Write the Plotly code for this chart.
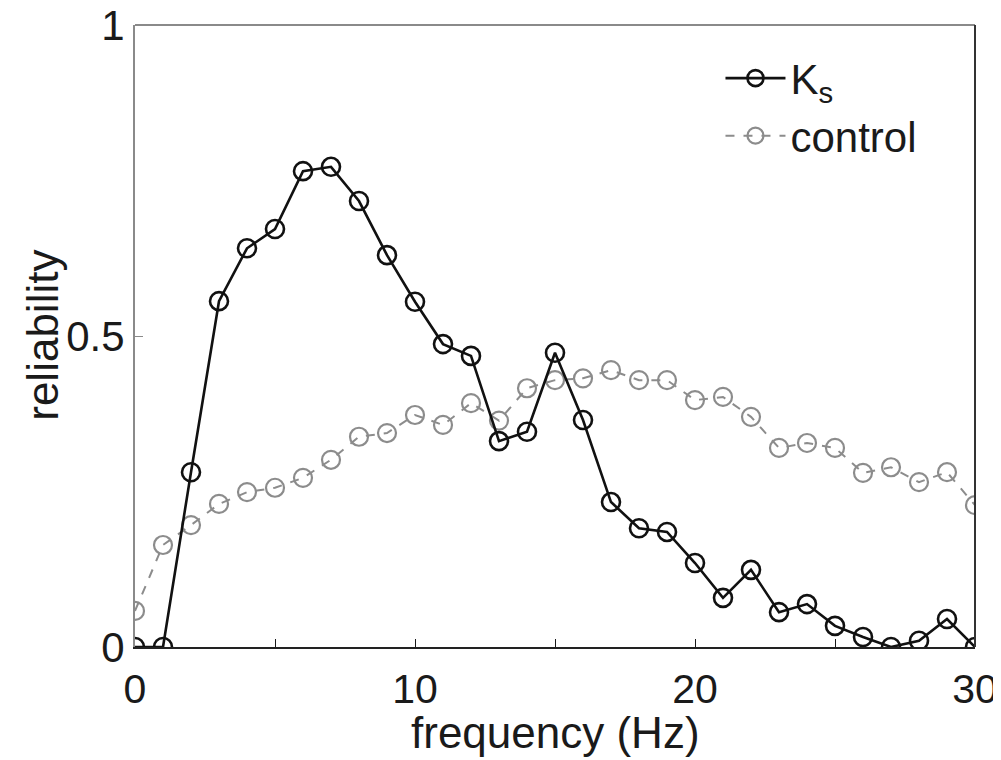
"""Reliability vs. frequency for K_s and control."""

import plotly.graph_objects as go

FREQ_HZ = list(range(31))
KS_RELIABILITY = [
    0.0, 0.0, 0.281, 0.556, 0.641, 0.672, 0.765, 0.772, 0.717, 0.630,
    0.555, 0.487, 0.468, 0.331, 0.346, 0.473, 0.365, 0.233, 0.191, 0.185,
    0.135, 0.079, 0.124, 0.056, 0.069, 0.034, 0.016, 0.0, 0.01, 0.045,
    0.0,
]
CONTROL_RELIABILITY = [
    0.058, 0.164, 0.196, 0.230, 0.249, 0.256, 0.272, 0.301, 0.338, 0.344,
    0.373, 0.357, 0.392, 0.364, 0.416, 0.429, 0.432, 0.445, 0.429, 0.429,
    0.397, 0.402, 0.370, 0.320, 0.328, 0.320, 0.280, 0.289, 0.265, 0.281,
    0.228,
]

FONT = "Liberation Sans, Arial, sans-serif"
INK = "#1a1a1a"
FRAME_GRAY = "#8a8a8a"

fig = go.Figure()
fig.add_trace(
    go.Scatter(
        x=FREQ_HZ,
        y=CONTROL_RELIABILITY,
        name="control",
        legendgroup="control",
        mode="lines+markers",
        line={"color": "#8c8c8c", "width": 2, "dash": "dash"},
        marker={
            "symbol": "circle-open",
            "size": 18,
            "color": "#8c8c8c",
            "line": {"width": 2.2, "color": "#8c8c8c"},
        },
    )
)
fig.add_trace(
    go.Scatter(
        x=FREQ_HZ,
        y=KS_RELIABILITY,
        name="K<sub>s</sub>",
        legendgroup="ks",
        mode="lines+markers",
        line={"color": "#111111", "width": 2.6},
        marker={
            "symbol": "circle-open",
            "size": 18,
            "color": "#111111",
            "line": {"width": 2.6, "color": "#111111"},
        },
    )
)

# the page body adds an 8 px offset, margins are shifted to compensate
fig.update_layout(
    width=1001,
    height=760,
    paper_bgcolor="white",
    plot_bgcolor="white",
    margin={"l": 127, "r": 34, "t": 17, "b": 121},
    font={"family": FONT, "color": INK, "size": 42},
    showlegend=True,
    legend={
        "x": 0.697,
        "y": 0.969,
        "xanchor": "left",
        "yanchor": "top",
        "traceorder": "reversed",
        "bgcolor": "rgba(0,0,0,0)",
        "font": {"size": 42},
        "itemwidth": 60,
        "tracegroupgap": 6,
    },
    xaxis={
        "range": [0, 30],
        "dtick": 10,
        "tick0": 0,
        "ticks": "inside",
        "ticklen": 8,
        "tickcolor": INK,
        "minor": {"dtick": 5, "ticks": "inside", "ticklen": 8, "tickcolor": INK},
        "showline": True,
        "linecolor": "#222222",
        "linewidth": 2,
        "mirror": False,
        "showgrid": False,
        "zeroline": False,
        "automargin": False,
        "ticklabeloverflow": "allow",
        "ticklabelstandoff": 5,
        "tickfont": {"size": 41},
    },
    yaxis={
        "range": [0, 1],
        "tickvals": [0, 0.5, 1],
        "ticktext": ["0", "0.5", "1"],
        "ticks": "inside",
        "ticklen": 8,
        "tickcolor": FRAME_GRAY,
        "showline": True,
        "linecolor": FRAME_GRAY,
        "linewidth": 2,
        "mirror": False,
        "showgrid": False,
        "zeroline": False,
        "automargin": False,
        "ticklabeloverflow": "allow",
        "tickfont": {"size": 42},
    },
    annotations=[
        {
            "text": "frequency (Hz)",
            "xref": "paper",
            "yref": "paper",
            "x": 0.5,
            "y": -0.137,
            "xanchor": "center",
            "yanchor": "middle",
            "showarrow": False,
            "font": {"size": 44},
        },
        {
            "text": "reliability",
            "xref": "paper",
            "yref": "paper",
            "x": -0.111,
            "y": 0.5016,
            "xanchor": "center",
            "yanchor": "middle",
            "textangle": -90,
            "showarrow": False,
            "font": {"size": 44},
        },
    ],
)

# top and right frame lines (MATLAB box)
fig.add_shape(type="line", xref="paper", yref="paper", x0=0, x1=1, y0=1, y1=1,
              line={"color": FRAME_GRAY, "width": 2})
fig.add_shape(type="line", xref="paper", yref="paper", x0=1, x1=1, y0=0, y1=1,
              line={"color": "#333333", "width": 2})

fig.write_html("out.html")
